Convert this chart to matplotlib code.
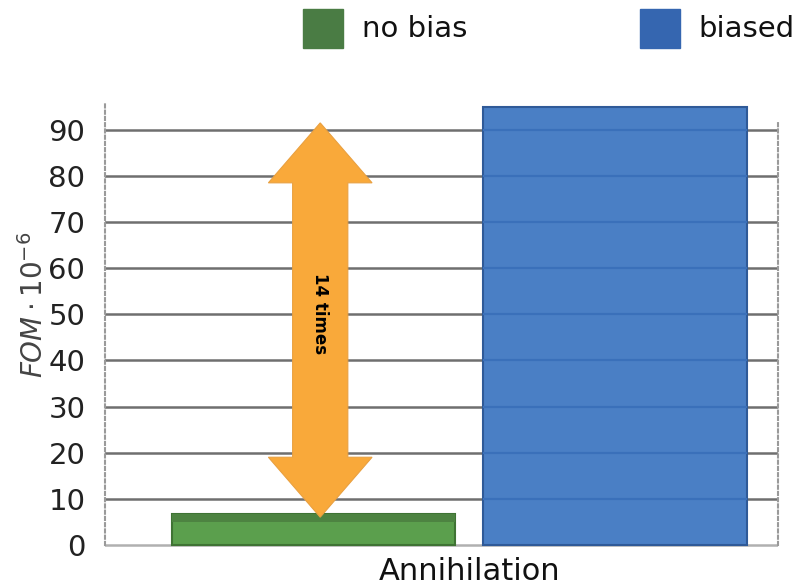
import matplotlib.pyplot as plt
from matplotlib.patches import Polygon, Rectangle
from matplotlib.transforms import blended_transform_factory

# values
series = ["no bias", "biased"]
fom = [6.6, 95.0]
category = "Annihilation"
yticks = [0, 10, 20, 30, 40, 50, 60, 70, 80, 90]
ratio_label = "14 times"

face = ["#5b9f4d", "#4a7fc5"]
edge = ["#3f7334", "#2f5a98"]
legend_col = ["#4a7c44", "#3566b0"]

# bar placement in axes-x units (layout only)
centers = [0.31, 0.758]
widths = [0.42, 0.393]

fig = plt.figure(figsize=(8, 5.88), dpi=100)
ax = fig.add_axes([0.131, 0.042, 0.8415, 0.80])
ax.set_xlim(0, 1)
ax.set_ylim(-4, 98)

# grid
for t in yticks:
    ax.axhline(t, color="#6f6f6f" if t else "#b0b0b0", lw=1.8, zorder=1)

bars = ax.bar(centers, fom, width=widths, color=face, edgecolor=edge,
              linewidth=1.5, zorder=3)

# darker top on the flat green bar
ax.bar(centers[0], fom[0] * 0.25, bottom=fom[0] * 0.75, width=widths[0],
       color="#4d8341", lw=0, zorder=4)

# gridlines seen through the blue bar
for t in yticks[1:]:
    if t < fom[1]:
        ax.hlines(t, centers[1] - widths[1] / 2, centers[1] + widths[1] / 2,
                  color="#3a70ba", lw=1.6, zorder=4)

# double arrow between the two bar tops
tr = blended_transform_factory(ax.transAxes, ax.transData)
xc = 0.32
shaft = 0.041
head = 0.077
hlen = 13.0
lo = fom[0] - 0.6
hi = fom[1] - 3.5
pts = [(xc, hi), (xc + head, hi - hlen), (xc + shaft, hi - hlen),
       (xc + shaft, lo + hlen), (xc + head, lo + hlen), (xc, lo),
       (xc - head, lo + hlen), (xc - shaft, lo + hlen), (xc - shaft, hi - hlen),
       (xc - head, hi - hlen)]
ax.add_patch(Polygon(pts, closed=True, transform=tr, facecolor="#f9a93a",
                     edgecolor="#e9a040", lw=0.8, zorder=6))
ax.text(xc, (lo + hi) / 2 + 1.5, ratio_label, transform=tr, rotation=-90,
        ha="center", va="center", fontsize=12, fontweight="bold", zorder=7)

# axes styling
ax.set_yticks(yticks)
ax.set_yticklabels([str(t) for t in yticks], fontsize=21, color="#222222")
ax.tick_params(axis="y", length=0, pad=14)
ax.set_xticks([])
for s in ["top", "bottom"]:
    ax.spines[s].set_visible(False)
for s in ["left", "right"]:
    ax.spines[s].set_linestyle((0, (1.5, 1.5)))
    ax.spines[s].set_color("#9a9a9a")
    ax.spines[s].set_linewidth(1.5)
ax.spines["left"].set_bounds(0, 96)
ax.spines["right"].set_bounds(0, 92)

ax.set_ylabel(r"$FOM\cdot10^{-6}$", fontsize=20, color="#444444")
ax.yaxis.set_label_coords(-0.083, 0.55)

fig.text(0.587, 0.004, category, ha="center", va="bottom", fontsize=22,
         color="#111111")

# legend across the top
leg_x = [0.379, 0.80]
for x, lab, col in zip(leg_x, series, legend_col):
    fig.patches.append(Rectangle((x, 0.918), 0.05, 0.066, transform=fig.transFigure,
                                 color=col, figure=fig))
    fig.text(x + 0.073, 0.951, lab, ha="left", va="center", fontsize=21,
             color="#111111")

fig.savefig("out.png", dpi=100)
